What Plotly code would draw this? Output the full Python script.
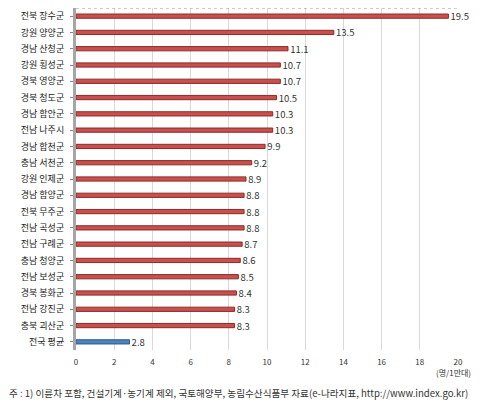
import plotly.graph_objects as go

regions = ["전북 장수군", "강원 양양군", "경남 산청군", "강원 횡성군", "경북 영양군",
           "경북 청도군", "경남 함안군", "전남 나주시", "경남 합천군", "충남 서천군",
           "강원 인제군", "경남 함양군", "전북 무주군", "전남 곡성군", "전남 구례군",
           "충남 청양군", "전남 보성군", "경북 봉화군", "전남 강진군", "충북 괴산군"]
region_values = [19.5, 13.5, 11.1, 10.7, 10.7, 10.5, 10.3, 10.3, 9.9, 9.2,
                 8.9, 8.8, 8.8, 8.8, 8.7, 8.6, 8.5, 8.4, 8.3, 8.3]
avg_label = ["전국 평균"]
avg_value = [2.8]
x_ticks = [0, 2, 4, 6, 8, 10, 12, 14, 16, 18, 20]

font = "Noto Sans CJK KR"

fig = go.Figure()

fig.add_trace(go.Bar(
    y=regions, x=region_values, orientation="h",
    marker=dict(color="#C9504D", line=dict(color="#8C2B28", width=1)),
    width=0.26,
    text=[f" {v:.1f}" for v in region_values], textposition="outside",
    constraintext="none",
    textfont=dict(size=9.5, color="#333333", family=font),
    cliponaxis=False,
))
fig.add_trace(go.Bar(
    y=avg_label, x=avg_value, orientation="h",
    marker=dict(color="#4F81BD", line=dict(color="#2F5A8F", width=1)),
    width=0.26,
    text=[f" {v:.1f}" for v in avg_value], textposition="outside",
    constraintext="none",
    textfont=dict(size=9.5, color="#333333", family=font),
    cliponaxis=False,
))

# page body adds an 8px margin, so the figure is 8px smaller each way
fig.update_layout(
    width=472, height=405,
    margin=dict(l=68, r=22, t=0, b=63),
    paper_bgcolor="white", plot_bgcolor="white",
    showlegend=False, barmode="overlay",
    font=dict(family=font, size=9, color="#333333"),
)
fig.update_xaxes(
    range=[0, 20], tickvals=x_ticks, automargin=False,
    showgrid=True, gridcolor="#D9D9D9", gridwidth=1,
    zeroline=False, showline=False,
    side="bottom", tickfont=dict(size=8, color="#333333"), ticks="",
    ticklabelstandoff=6,
)
fig.update_yaxes(
    autorange="reversed", showgrid=False, automargin=False,
    showline=True, linecolor="#A6A6A6", linewidth=3,
    ticks="outside", ticklen=3, tickcolor="#888888",
    tickfont=dict(size=9, color="#222222"), ticklabelstandoff=4,
)

# dotted top edge of the back wall
fig.add_shape(type="line", xref="paper", yref="paper", x0=0, x1=1, y0=1, y1=1,
              line=dict(color="#999999", width=1, dash="dot"))

fig.add_annotation(text="(명/1만대)", xref="paper", yref="paper", x=1.04, y=-0.045,
                   xanchor="right", yanchor="top", showarrow=False,
                   font=dict(size=8, color="#333333"))
fig.add_annotation(text="주 : 1) 이륜차 포함, 건설기계·농기계 제외, 국토해양부, 농림수산식품부 자료(e-나라지표, http://www.index.go.kr)",
                   xref="paper", yref="paper", x=-0.18, y=-0.1,
                   xanchor="left", yanchor="top", showarrow=False,
                   font=dict(size=9.6, color="#333333"))

fig.write_html("out.html")
